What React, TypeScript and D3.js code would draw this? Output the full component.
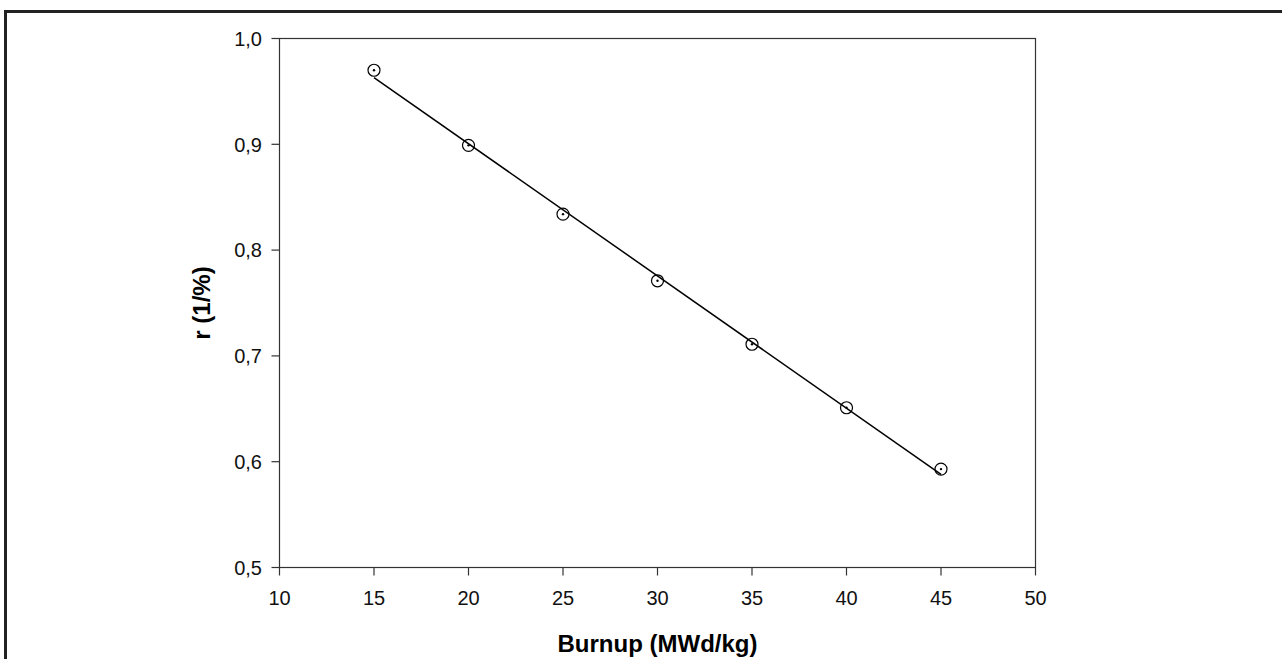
import React from "react";
import * as d3 from "d3";

// data
const burnup = [15, 20, 25, 30, 35, 40, 45];
const rValues = [0.970, 0.899, 0.834, 0.771, 0.711, 0.651, 0.593];
const xTicks = [10, 15, 20, 25, 30, 35, 40, 45, 50];
const yTicks = [0.5, 0.6, 0.7, 0.8, 0.9, 1.0];

const W = 1282;
const H = 659;
const FONT = "'Liberation Sans', Arial, sans-serif";

const App = () => {
  const x = d3.scaleLinear().domain([10, 50]).range([279.5, 1035.5]);
  const y = d3.scaleLinear().domain([0.5, 1.0]).range([567.5, 38.5]);

  // least-squares fit through the points
  const mx = d3.mean(burnup) as number;
  const my = d3.mean(rValues) as number;
  const sxy = d3.sum(burnup, (b, i) => (b - mx) * (rValues[i] - my));
  const sxx = d3.sum(burnup, (b) => (b - mx) * (b - mx));
  const slope = sxy / sxx;
  const fit = (b: number) => my + slope * (b - mx);
  const xExt = d3.extent(burnup) as [number, number];

  const line = d3
    .line<number>()
    .x((b) => x(b))
    .y((b) => y(fit(b)));

  const fmt = (v: number) => v.toFixed(1).replace(".", ",");

  return (
    <svg
      width={W}
      height={H}
      style={{ position: "absolute", left: 0, top: 0, background: "#fff" }}
    >
      {/* outer frame */}
      <rect x={5.5} y={11.5} width={W + 20} height={H + 20} fill="none" stroke="#222" strokeWidth={3} />

      {/* plot box */}
      <rect
        x={x(10)}
        y={y(1.0)}
        width={x(50) - x(10)}
        height={y(0.5) - y(1.0)}
        fill="none"
        stroke="#333"
        strokeWidth={1.2}
      />

      {/* y axis ticks */}
      {yTicks.map((t) => (
        <g key={"y" + t}>
          <line x1={x(10) - 8} x2={x(10)} y1={y(t)} y2={y(t)} stroke="#333" strokeWidth={1.2} />
          <text
            x={262}
            y={y(t)}
            dy="0.36em"
            textAnchor="end"
            fontFamily={FONT}
            fontSize={20}
            fill="#111"
          >
            {fmt(t)}
          </text>
        </g>
      ))}

      {/* x axis ticks */}
      {xTicks.map((t) => (
        <g key={"x" + t}>
          <line x1={x(t)} x2={x(t)} y1={y(0.5)} y2={y(0.5) + 8} stroke="#333" strokeWidth={1.2} />
          <text
            x={x(t)}
            y={605}
            textAnchor="middle"
            fontFamily={FONT}
            fontSize={20}
            fill="#111"
          >
            {t}
          </text>
        </g>
      ))}

      {/* axis titles */}
      <text
        x={(x(10) + x(50)) / 2}
        y={652}
        textAnchor="middle"
        fontFamily={FONT}
        fontSize={24}
        fontWeight="bold"
        fill="#000"
      >
        Burnup (MWd/kg)
      </text>
      <text
        transform={`translate(210,${(y(0.5) + y(1.0)) / 2}) rotate(-90)`}
        textAnchor="middle"
        fontFamily={FONT}
        fontSize={24}
        fontWeight="bold"
        fill="#000"
      >
        r (1/%)
      </text>

      {/* regression line */}
      <path d={line(xExt) || ""} fill="none" stroke="#000" strokeWidth={1.5} />

      {/* markers */}
      {burnup.map((b, i) => (
        <g key={"p" + b}>
          <circle cx={x(b)} cy={y(rValues[i])} r={6} fill="none" stroke="#000" strokeWidth={1.2} />
          <circle cx={x(b)} cy={y(rValues[i])} r={1.2} fill="#000" />
        </g>
      ))}
    </svg>
  );
};

export default App;
